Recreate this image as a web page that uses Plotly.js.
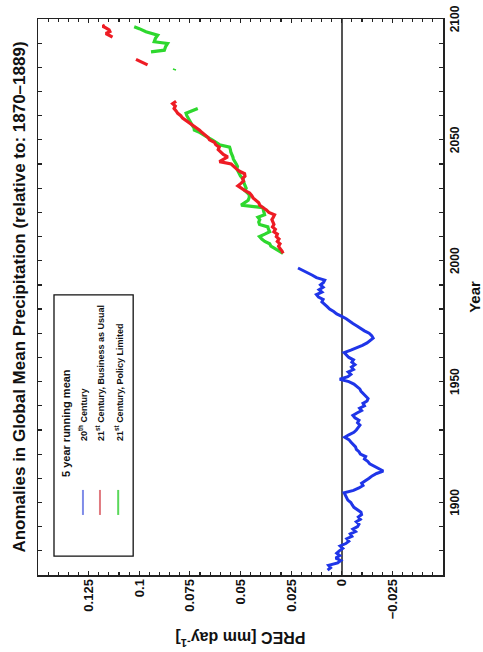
<!DOCTYPE html>
<html>
<head>
<meta charset="utf-8">
<script src="https://cdn.plot.ly/plotly-3.0.1.min.js"></script>
<style>
  html, body { margin: 0; padding: 0; background: #fff; overflow: hidden; }
  #chart { position: absolute; left: 0; top: 0; width: 652px; height: 483px;
           transform-origin: 0 0; transform: translate(0px, 652px) rotate(-90deg); }
</style>
</head>
<body>
<div id="chart"></div>
<script>
// ---- data ----
const yearTicks = [1900, 1950, 2000, 2050, 2100];
const precTickVals = [-0.025, 0, 0.025, 0.05, 0.075, 0.1, 0.125];
const precTickText = ["\u22120.025", "0", "0.025", "0.05", "0.075", "0.1", "0.125"];

// 20th Century (5 year running mean)
const c20Years = [1872,1873,1874,1875,1876,1877,1878,1879,1880,1881,1882,1883,1884,1885,1886,1887,1888,1889,
  1890,1891,1892,1893,1894,1895,1896,1897,1898,1899,1900,1901,1902,1903,1904,1905,1906,1907,1908,1909,
  1910,1911,1912,1913,1914,1915,1916,1917,1918,1919,1920,1921,1922,1923,1924,1925,1926,1927,1928,1929,
  1930,1931,1932,1933,1934,1935,1936,1937,1938,1939,1940,1941,1942,1943,1944,1945,1946,1947,1948,1949,
  1950,1951,1952,1953,1954,1955,1956,1957,1958,1959,1960,1961,1962,1963,1964,1965,1966,1967,1968,1969,
  1970,1971,1972,1973,1974,1975,1976,1977,1978,1979,1980,1981,1982,1983,1984,1985,1986,1987,1988,1989,
  1990,1991,1992,1993,1994,1995,1996,1997];
const c20Prec = [0.007,0.0055,0.0065,0.002,0.0005,0.003,0.001,0.0025,0.0012,-0.0005,0.0008,-0.002,-0.0035,-0.0025,-0.005,-0.0042,-0.0068,-0.0055,
  -0.0078,-0.0085,-0.0072,-0.0092,-0.0082,-0.0098,-0.0095,-0.0078,-0.006,-0.0052,-0.0045,-0.003,-0.0022,-0.0018,-0.0012,-0.0058,-0.0085,-0.0105,-0.0098,-0.012,
  -0.0135,-0.015,-0.0172,-0.0205,-0.0185,-0.016,-0.0138,-0.0128,-0.0112,-0.0118,-0.0092,-0.0085,-0.0072,-0.0068,-0.0055,-0.0045,-0.0035,-0.0015,-0.0035,-0.006,
  -0.0072,-0.0082,-0.009,-0.0078,-0.0085,-0.0065,-0.0055,-0.0075,-0.0098,-0.0088,-0.0112,-0.0105,-0.0125,-0.013,-0.0118,-0.011,-0.0095,-0.0089,-0.0072,-0.006,
  -0.0035,0.001,-0.003,-0.0045,-0.0032,-0.0058,-0.0048,-0.0065,-0.005,-0.0058,-0.0035,-0.0025,-0.0012,-0.0045,-0.0078,-0.0102,-0.0125,-0.014,-0.0155,-0.0148,
  -0.0135,-0.0112,-0.009,-0.0075,-0.0055,-0.004,-0.0022,0.0,0.0025,0.004,0.006,0.0072,0.0085,0.0098,0.0092,0.0115,0.0125,0.0098,0.0112,0.0092,
  0.0105,0.009,0.0084,0.0125,0.0145,0.0168,0.019,0.0216];

// 21st Century, Business as Usual (null = gap)
const bauYears = [2003,2004,2005,2006,2007,2008,2009,2010,2011,2012,2013,2014,2015,2016,2017,2018,2019,2020,2021,2022,
  2023,2024,2025,2026,2027,2028,2029,2030,2031,2032,2033,2034,2035,2036,2037,2038,2039,2040,2041,2042,
  2043,2044,2045,2046,2047,2048,2049,2050,2051,2052,2053,2054,2055,2056,2057,2058,2059,2060,2061,2062,
  2063,2064,2065,2066, 2073,
  2081,2081.8,2082.5,2083.3, 2088,
  2092.5,2093.3,2094,2094.8,2095.5,2096.3,2097,2097.5];
const bauPrec = [0.029,0.0295,0.0305,0.0312,0.0305,0.0318,0.031,0.0323,0.0318,0.0335,0.0328,0.0342,0.0335,0.034,0.0345,0.0338,0.0332,0.036,0.0372,0.039,
  0.0405,0.041,0.0425,0.0438,0.0445,0.0455,0.0478,0.0495,0.0513,0.0498,0.0485,0.049,0.0478,0.048,0.0505,0.052,0.0535,0.0546,0.0604,0.058,
  0.0563,0.0585,0.0598,0.061,0.0605,0.0622,0.0629,0.0653,0.066,0.0678,0.069,0.0702,0.0719,0.073,0.075,0.0765,0.0786,0.0795,0.081,0.0818,
  0.0828,0.0822,0.0835,0.0818, null,
  0.0959,0.098,0.1,0.1016, null,
  0.1132,0.115,0.1165,0.1145,0.1149,0.1165,0.118,0.117];

// 21st Century, Policy Limited (null = gap)
const polYears = [2003,2004,2005,2006,2007,2008,2009,2010,2011,2012,2013,2014,2015,2016,2017,2018,2019,2020,2021,2022,
  2023,2024,2025,2026,2027,2028,2029,2030,2031,2032,2033,2034,2035,2036,2037,2038,2039,2040,2041,2042,
  2043,2044,2045,2046,2047,2048,2049,2050,2051,2052,2053,2054,2055,2056,2057,2058,2059,2060,2061,2062,2063, 2070,
  2078.8,2079.4, 2083,
  2086.4,2087.1,2088.5,2089.9,2090.6,2092,2093.3,2094.7,2096,2096.8];
const polPrec = [0.029,0.031,0.0335,0.035,0.0356,0.038,0.0395,0.0406,0.038,0.0356,0.0362,0.0365,0.0406,0.041,0.0405,0.0414,0.0381,0.0385,0.0388,0.039,
  0.0497,0.048,0.0462,0.0458,0.0455,0.0465,0.0478,0.0472,0.0478,0.0482,0.0485,0.0488,0.05,0.0508,0.0512,0.0518,0.0515,0.0521,0.053,0.0535,
  0.0538,0.0545,0.0548,0.055,0.0554,0.0604,0.062,0.064,0.0662,0.0678,0.07,0.0728,0.073,0.0738,0.0745,0.0752,0.076,0.0765,0.0769,0.074,0.0711, null,
  0.0827,0.0825, null,
  0.0942,0.0876,0.087,0.086,0.0926,0.092,0.0909,0.0967,0.1,0.1025];

const legendHeader = "5 year running mean";
const seriesNames = ["20<sup>th</sup> Century", "21<sup>st</sup> Century, Business as Usual", "21<sup>st</sup> Century, Policy Limited"];
const seriesColors = ["#1f35e8", "#ee1c24", "#2ed82e"];
const legendSampleColors = ["#7f8ce8", "#e07a80", "#5ad85a"];

// ---- chart ----
const FONT = '"Liberation Sans Narrow", "Arial Narrow", "Liberation Sans", Arial, sans-serif';

const traces = [
  {x: c20Years, y: c20Prec, name: "20th Century", mode: "lines", line: {color: seriesColors[0], width: 3}, connectgaps: false},
  {x: polYears, y: polPrec, name: "21st Century, Policy Limited", mode: "lines", line: {color: seriesColors[2], width: 3.2}, connectgaps: false},
  {x: bauYears, y: bauPrec, name: "21st Century, Business as Usual", mode: "lines", line: {color: seriesColors[1], width: 3.2}, connectgaps: false}
];

const shapes = [
  {type: "rect", xref: "paper", yref: "paper", x0: 0.034, x1: 0.504, y0: 0.765, y1: 0.9605,
   line: {color: "#111", width: 1.3}, fillcolor: "rgba(0,0,0,0)"}
];
const sampleY = [0.889, 0.847, 0.802];
const textY = [0.889, 0.847, 0.801];
const annotations = [
  {xref: "paper", yref: "paper", x: 0.172, y: 0.93, xanchor: "left", yanchor: "middle", showarrow: false,
   text: legendHeader, font: {family: FONT, size: 11, color: "#111", weight: "bold"}}
];
for (let i = 0; i < 3; i++) {
  shapes.push({type: "line", xref: "paper", yref: "paper", x0: 0.108, x1: 0.153, y0: sampleY[i], y1: sampleY[i],
               line: {color: legendSampleColors[i], width: 2}});
  annotations.push({xref: "paper", yref: "paper", x: 0.238, y: textY[i], xanchor: "left", yanchor: "middle", showarrow: false,
    text: seriesNames[i], font: {family: FONT, size: 9, color: "#111", weight: "bold"}});
}

const layout = {
  width: 652, height: 483,
  margin: {l: 77, r: 19, t: 38, b: 40},
  paper_bgcolor: "#fff", plot_bgcolor: "#fff",
  showlegend: false,
  font: {family: FONT, color: "#111", size: 12},
  title: {text: "Anomalies in Global Mean Precipitation (relative to: 1870\u20131889)",
          x: 0.5, xref: "paper", xanchor: "center", y: 1 - 19/483, yref: "container", yanchor: "middle",
          font: {family: FONT, size: 17, color: "#111", weight: "bold"}},
  xaxis: {
    range: [1870, 2100], tickvals: yearTicks, ticktext: yearTicks.map(String),
    ticks: "inside", ticklen: 4, tickwidth: 1.2, tickcolor: "#222",
    minor: {dtick: 10, tick0: 1870, ticks: "inside", ticklen: 4, tickwidth: 1.2, tickcolor: "#222"},
    showline: true, linecolor: "#222", linewidth: 1.5, mirror: "allticks",
    showgrid: false, zeroline: false,
    tickfont: {family: FONT, size: 12, color: "#111", weight: "bold"},
    title: {text: "Year", standoff: 12, font: {family: FONT, size: 15, color: "#111", weight: "bold"}}
  },
  yaxis: {
    range: [-0.05, 0.15], tickvals: precTickVals, ticktext: precTickText,
    ticks: "inside", ticklen: 4, tickwidth: 1.2, tickcolor: "#222",
    minor: {dtick: 0.005, tick0: 0, ticks: "inside", ticklen: 3, tickwidth: 1.2, tickcolor: "#222"},
    showline: true, linecolor: "#222", linewidth: 1.5, mirror: "allticks",
    showgrid: false,
    zeroline: true, zerolinecolor: "#555", zerolinewidth: 1.5,
    tickfont: {family: FONT, size: 13, color: "#111", weight: "bold"},
    title: {text: "PREC [mm day<sup>-1</sup>]", standoff: 8, font: {family: FONT, size: 16, color: "#111", weight: "bold"}}
  },
  shapes: shapes,
  annotations: annotations
};

Plotly.newPlot("chart", traces, layout, {displayModeBar: false, staticPlot: true});
</script>
</body>
</html>
